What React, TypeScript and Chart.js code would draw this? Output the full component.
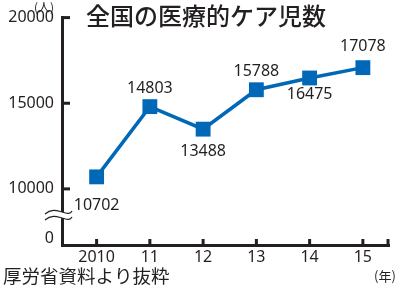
import React, { useEffect, useRef } from "react";
import { Chart, registerables } from "chart.js";

Chart.register(...registerables);

const years = [2010, 2011, 2012, 2013, 2014, 2015];
const yearLabels = ["2010", "11", "12", "13", "14", "15"];
const counts = [10702, 14803, 13488, 15788, 16475, 17078];
const valueLabelOffset = [29, -18, 22, -18, 16, -21];
const yTickValues = [7130, 10000, 15000, 20000];
const yTickLabels = ["0", "10000", "15000", "20000"];
const title = "全国の医療的ケア児数";
const source = "厚労省資料より抜粋";
const yUnit = "(人)";
const xUnit = "(年)";

const INK = "#231f20";
const BLUE = "#0068b7";
const NUM_FONT = "'Noto Sans', 'DejaVu Sans', sans-serif";
const JP_FONT = "'Noto Sans CJK JP', sans-serif";

const decorPlugin = {
  id: "decor",
  afterDatasetsDraw(chart: any) {
    const ctx = chart.ctx;
    const meta = chart.getDatasetMeta(0);
    ctx.save();
    ctx.fillStyle = INK;
    ctx.font = `16px ${NUM_FONT}`;
    ctx.textAlign = "center";
    ctx.textBaseline = "middle";
    meta.data.forEach((pt: any, i: number) => {
      ctx.fillText(String(counts[i]), pt.x, pt.y + valueLabelOffset[i]);
    });
    ctx.restore();
  },
  afterDraw(chart: any) {
    const ctx = chart.ctx;
    const { left, right, bottom } = chart.chartArea;
    const ys = chart.scales.y;
    const xs = chart.scales.x;
    ctx.save();
    ctx.fillStyle = INK;
    // inward y ticks
    yTickValues.slice(1).forEach((v) => {
      const py = ys.getPixelForValue(v);
      ctx.fillRect(left, py - 1.5, 8, 3);
    });
    // inward x ticks
    years.forEach((v) => {
      const px = xs.getPixelForValue(v);
      ctx.fillRect(px - 1.5, bottom - 6, 3, 6);
    });
    ctx.fillRect(right - 3, bottom - 6, 3, 6);

    // axis break
    const by = 212;
    ctx.fillStyle = "#ffffff";
    ctx.fillRect(left - 3, by, 7, 6);
    ctx.strokeStyle = INK;
    ctx.lineWidth = 1.2;
    [by, by + 6].forEach((y) => {
      ctx.beginPath();
      ctx.moveTo(left - 17, y + 2);
      ctx.bezierCurveTo(left - 10, y - 4, left - 4, y - 1, left, y);
      ctx.bezierCurveTo(left + 4, y + 1, left + 8, y + 3, left + 10, y - 1);
      ctx.stroke();
    });

    // texts
    ctx.fillStyle = INK;
    ctx.textBaseline = "middle";
    ctx.textAlign = "left";
    ctx.font = `500 24px ${JP_FONT}`;
    ctx.fillText(title, 86, 16);
    ctx.font = `18.5px ${JP_FONT}`;
    ctx.fillText(source, 3, 276);
    ctx.font = `12px ${JP_FONT}`;
    ctx.textAlign = "center";
    ctx.fillText(yUnit, 44, 7);
    ctx.font = `13px ${JP_FONT}`;
    ctx.fillText(xUnit, 385, 276);
    ctx.restore();
  },
};

export default function App() {
  const ref = useRef<HTMLCanvasElement>(null);
  useEffect(() => {
    if (!ref.current) return;
    const chart = new Chart(ref.current, {
      type: "line",
      data: {
        datasets: [
          {
            data: years.map((y, i) => ({ x: y, y: counts[i] })),
            borderColor: BLUE,
            backgroundColor: BLUE,
            borderWidth: 3.5,
            pointStyle: "rect",
            pointRadius: 10.5,
            pointBorderWidth: 0,
            pointBackgroundColor: BLUE,
            clip: false as any,
          },
        ],
      },
      options: {
        animation: false,
        responsive: false,
        events: [],
        layout: { padding: { top: 16, right: 6, left: 0, bottom: 0 } },
        plugins: { legend: { display: false }, tooltip: { enabled: false }, title: { display: false } },
        scales: {
          x: {
            type: "linear",
            min: 2009.35,
            max: 2015.5,
            afterBuildTicks: (s: any) => {
              s.ticks = years.map((v) => ({ value: v }));
            },
            afterFit: (s: any) => {
              s.height = 41;
            },
            ticks: {
              callback: (_v: any, i: number) => yearLabels[i],
              font: { family: NUM_FONT, size: 16 },
              color: INK,
              padding: 3,
              maxRotation: 0,
              autoSkip: false,
            },
            grid: { display: false, drawTicks: false },
            border: { display: true, width: 3, color: INK },
          },
          y: {
            type: "linear",
            min: 6725,
            max: 20000,
            afterBuildTicks: (s: any) => {
              s.ticks = yTickValues.map((v) => ({ value: v }));
            },
            afterFit: (s: any) => {
              s.width = 62;
            },
            ticks: {
              callback: (_v: any, i: number) => yTickLabels[i],
              font: { family: NUM_FONT, size: 16 },
              color: INK,
              padding: 8,
              autoSkip: false,
            },
            grid: { display: false, drawTicks: false },
            border: { display: true, width: 3, color: INK },
          },
        },
      },
      plugins: [decorPlugin],
    });
    return () => chart.destroy();
  }, []);
  return (
    <div style={{ position: "fixed", left: 0, top: 0, width: 400, height: 286, background: "#fff" }}>
      <canvas ref={ref} width={400} height={286} style={{ display: "block", width: 400, height: 286 }} />
    </div>
  );
}
